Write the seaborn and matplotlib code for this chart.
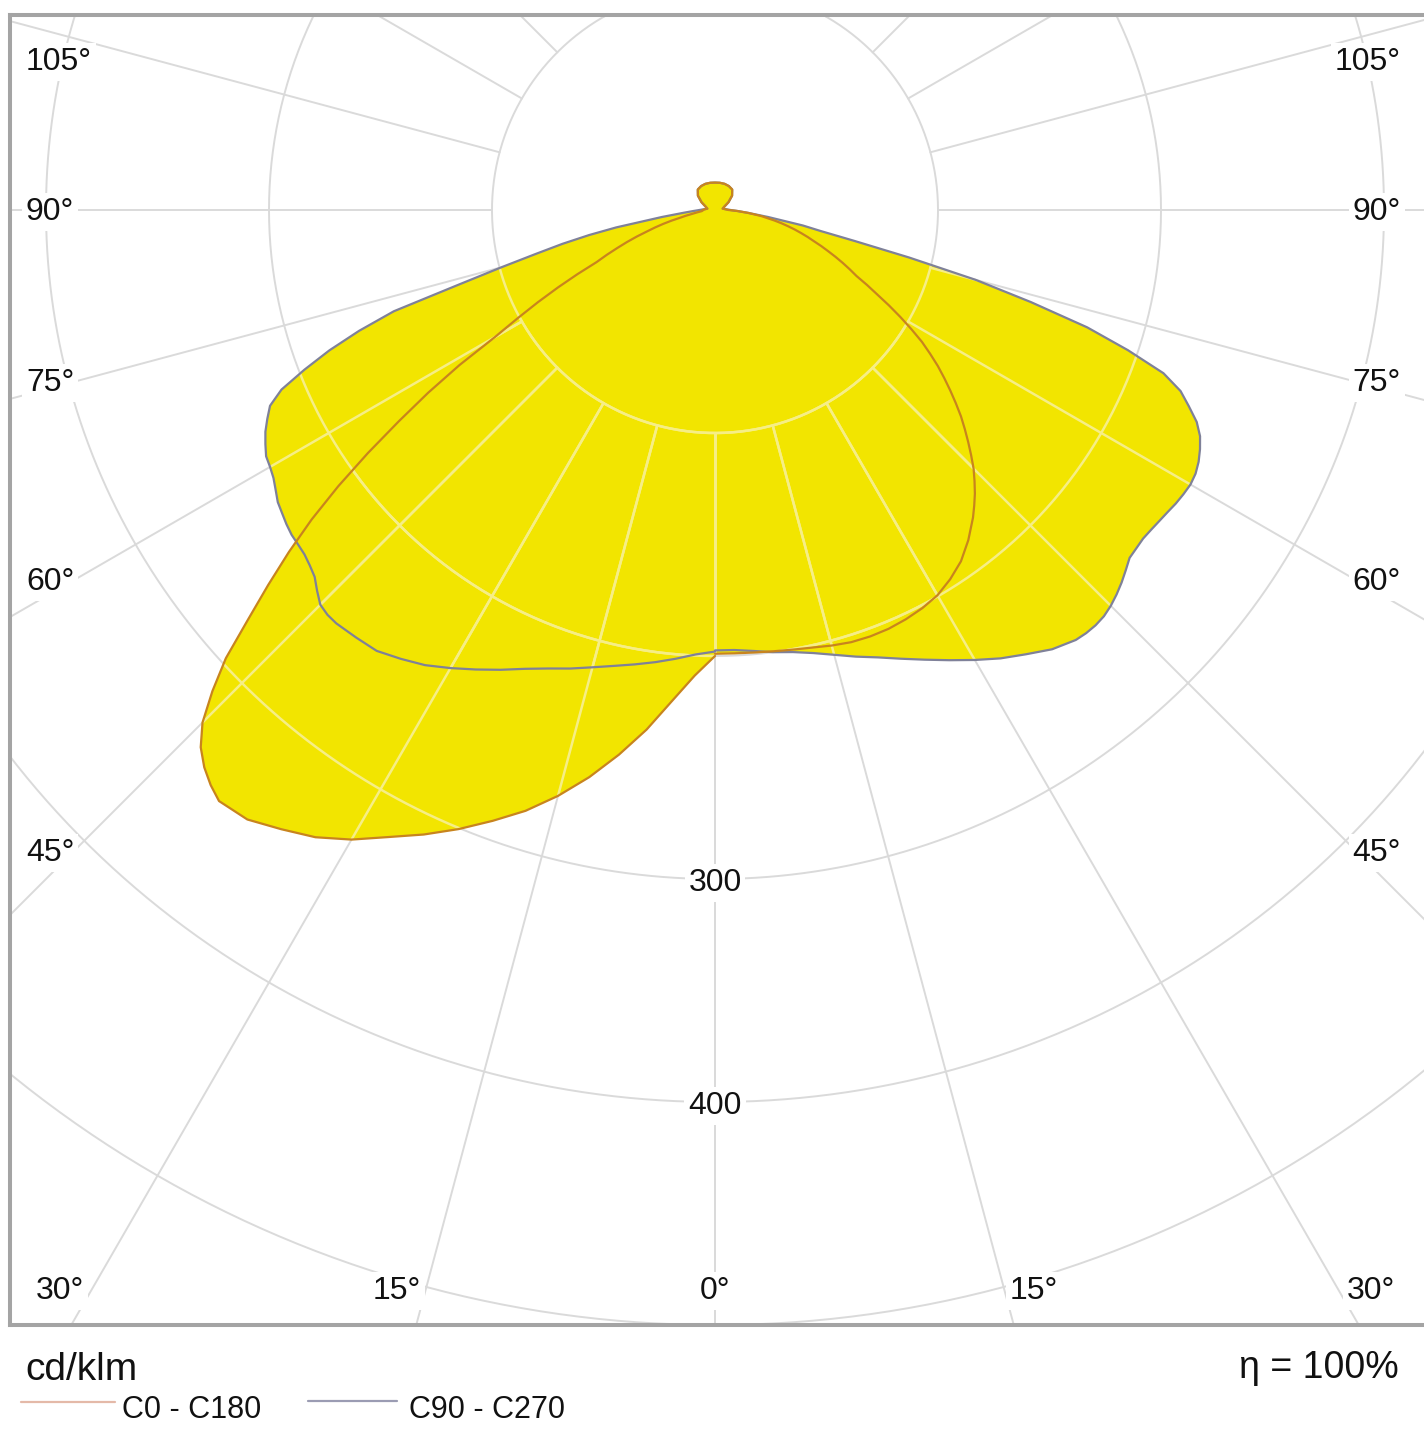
import numpy as np
import pandas as pd
import matplotlib
matplotlib.use("Agg")
import matplotlib.pyplot as plt
from matplotlib.lines import Line2D
import seaborn as sns

# ---------------- data (cd/klm) ----------------
GAMMA_LOWER = [0, 2.5, 5, 7.5, 10, 12.5, 15, 17.5, 20, 22.5, 25, 27.5, 30, 32.5, 35, 37.5,
               40, 41.25, 42.5, 43.75, 45, 46.25, 47.5, 48.75, 50, 51.25, 52.5, 53.75, 55,
               56.25, 57.5, 58.75, 60, 61.25, 62.5, 63.75, 65, 66.25, 67.5, 68.75, 70, 71.25,
               72.5, 73.75, 75, 76.25, 77.5, 78.75, 80, 82.5, 85, 87.5, 90]
GAMMA_UPPER = [100, 110, 120, 130, 140, 150, 160, 170, 180]

C0 = [199, 199, 199.2, 199.6, 200.2, 201, 202.2, 203.2, 203.5, 203.3, 202.5, 201.3, 199.5, 196.3,
      192.3, 186.6,
      180, 176.3, 172.5, 168.3, 164, 159, 154, 149, 144, 138.5, 133, 127.5, 122, 116, 110, 103,
      96, 89, 82, 76, 70, 66, 62, 58, 54, 50.3, 46.5, 43.3, 40, 36.8, 33.5, 30.3, 27,
      21, 15, 10, 6]
C180 = [200, 209, 221, 235, 248, 260.5, 272, 282.5, 291.5, 300.5, 309, 317, 326, 333.5, 339, 344.5,
        346, 343, 339, 333.5, 325, 312, 297.5, 278.5, 261.5, 245, 228, 209.5, 190, 170.5, 152.5,
        134, 114, 101, 89.5, 78.5, 68, 58, 52.5, 47, 42, 37, 32, 28, 24, 20, 16, 13.5, 11,
        8, 6, 5.5, 5.5]
C90 = [197.5, 197.5, 198.5, 200, 201.3, 203.5, 206.5, 210, 213.5, 217.8, 222.5, 227.6, 233,
       238.4, 243.2, 248.3,
       251.7, 252.4, 252.6, 252.2, 251, 249.3, 247.3, 245, 242.7, 242.3, 242, 242.5, 243.2, 244,
       245, 245.7, 246.2, 245.8, 244.5, 242.5, 240, 236, 230, 224, 214, 195.5, 175, 147.5, 121,
       89.5, 64, 48.3, 40,
       24, 15, 10, 7]
C270 = [198, 199.5, 202, 204.5, 206.9, 209.4, 212.3, 215.6, 218.8, 222.7, 227.5, 232.3, 237.2,
        242, 245.7, 249.2,
        250.3, 250.8, 251.4, 251.3, 250.3, 247, 243.5, 241.7, 240.3, 239.7, 239.3, 238.3, 237,
        235.8, 233.6, 231.6, 230.4, 229.6, 227.3, 224.8, 221.5, 218, 210.4, 197.5, 184, 168.5,
        151, 120, 99, 82.5, 70, 57.5, 45,
        24, 14, 9.5, 7]
UPPER = [3.5, 4.5, 7, 10, 12, 12.4, 12.5, 12.4, 12.3]

RING_VALUES = [100, 200, 300, 400, 500]
RING_LABELS = [300, 400]
SPOKE_ANGLES = [0, 15, 30, 45, 60, 75, 90, 105, 120, 135, 150, 165, 180]
LEFT_LABELS = ["105°", "90°", "75°", "60°", "45°"]
BOTTOM_LABELS = ["30°", "15°", "0°", "15°", "30°"]
PLANES = ["C0 - C180", "C90 - C270"]

# ---------------- style ----------------
YELLOW = "#f2e500"
PALE = "#f6ee86"
GRID = "#dadada"
RED = "#c8841e"
GRAY = "#7f8199"
INK = "#111111"

sns.set_theme(style="white")
plt.rcParams["font.family"] = ["Liberation Sans", "DejaVu Sans"]

W, H = 1424, 1436
fig = plt.figure(figsize=(W / 100, H / 100), dpi=100)
fig.patch.set_facecolor("white")

CX, CY, S = 715.0, 210.0, 2.23  # pixel centre, px per cd/klm
L, R, T, B = 10, 1440, 15, 1325
ax = fig.add_axes([L / W, (H - B) / H, (R - L) / W, (B - T) / H])
XLIM = ((L - CX) / S, (R - CX) / S)
YLIM = ((CY - B) / S, (CY - T) / S)
ax.set_xlim(*XLIM)
ax.set_ylim(*YLIM)
ax.set_xticks([])
ax.set_yticks([])
ax.set_facecolor("white")
for sp in ax.spines.values():
    sp.set_color("#a4a4a4")
    sp.set_linewidth(2.9)
    sp.set_visible(True)


def px(x, y):
    return (x - CX) / S, (CY - y) / S


def half(lower, side):
    g = np.radians(np.array(GAMMA_LOWER + GAMMA_UPPER, dtype=float))
    r = np.array(lower + UPPER, dtype=float)
    return side * r * np.sin(g), -r * np.cos(g)


def plane_xy(right, left):
    xr, yr = half(right, 1)
    xl, yl = half(left, -1)
    x = np.concatenate([xr, xl[::-1][1:]])
    y = np.concatenate([yr, yl[::-1][1:]])
    return x, y


curves = {
    PLANES[0]: plane_xy(C0, C180),
    PLANES[1]: plane_xy(C90, C270),
}

# ---------------- grid ----------------
t = np.linspace(0, 2 * np.pi, 721)


def draw_grid(color, lw, z, clip=None):
    arts = []
    for rv in RING_VALUES:
        ln, = ax.plot(rv * np.cos(t), rv * np.sin(t), color=color, lw=lw, zorder=z)
        arts.append(ln)
    for a in SPOKE_ANGLES:
        ar = np.radians(a)
        for side in (-1, 1):
            rr = np.array([100, 900])
            ln, = ax.plot(side * rr * np.sin(ar), -rr * np.cos(ar), color=color, lw=lw, zorder=z)
            arts.append(ln)
    if clip is not None:
        for a_ in arts:
            a_.set_clip_path(clip)


draw_grid(GRID, 1.4, 1)

# ---------------- fills ----------------
patches = []
for name in PLANES:
    x, y = curves[name]
    p = ax.fill(x, y, color=YELLOW, lw=0, zorder=2)[0]
    patches.append(p)

for p in patches:
    draw_grid(PALE, 1.8, 3, clip=p)

# ---------------- outlines (seaborn) ----------------
rows = []
for name in PLANES:
    x, y = curves[name]
    for i, (xx, yy) in enumerate(zip(x, y)):
        rows.append({"plane": name, "order": i, "x": xx, "y": yy})
df = pd.DataFrame(rows)
sns.lineplot(data=df[df.plane == PLANES[1]], x="x", y="y", sort=False, estimator=None,
             color=GRAY, linewidth=1.6, ax=ax, zorder=4, legend=False)
sns.lineplot(data=df[df.plane == PLANES[0]], x="x", y="y", sort=False, estimator=None,
             color=RED, linewidth=1.6, ax=ax, zorder=5, legend=False)
ax.set_xlabel("")
ax.set_ylabel("")
ax.set_xlim(*XLIM)
ax.set_ylim(*YLIM)

# ---------------- labels ----------------
bbox = dict(boxstyle="square,pad=0.12", fc="white", ec="none")
FS = 23
left_y = [62, 212, 383, 582, 853]
for lab, yy in zip(LEFT_LABELS, left_y):
    ax.text(*px(26, yy), lab, ha="left", va="center", fontsize=FS, color=INK, zorder=6, bbox=bbox)
    ax.text(*px(1401, yy), lab, ha="right", va="center", fontsize=FS, color=INK, zorder=6, bbox=bbox)
bottom_x = [60, 397, 715, 1034, 1371]
for lab, xx in zip(BOTTOM_LABELS, bottom_x):
    ax.text(*px(xx, 1291), lab, ha="center", va="center", fontsize=FS, color=INK, zorder=6, bbox=bbox)
for rv in RING_LABELS:
    ax.text(0, -rv - 4 / S, str(rv), ha="center", va="center", fontsize=FS, color=INK, zorder=6, bbox=bbox)

# ---------------- footer ----------------
def ff(x, y):
    return x / W, 1 - y / H


fig.text(*ff(25, 1380), "cd/klm", ha="left", va="baseline", fontsize=28, color=INK)
fig.text(*ff(1399, 1378), "η = 100%", ha="right", va="baseline", fontsize=27, color=INK)
fig.add_artist(Line2D([21 / W, 115 / W], [1 - 1402 / H] * 2, transform=fig.transFigure,
                      color="#e4b9a8", lw=1.6))
fig.add_artist(Line2D([308 / W, 397 / W], [1 - 1401 / H] * 2, transform=fig.transFigure,
                      color="#9b9cb3", lw=1.6))
fig.text(*ff(122, 1418), PLANES[0], ha="left", va="baseline", fontsize=22, color=INK)
fig.text(*ff(409, 1418), PLANES[1], ha="left", va="baseline", fontsize=22, color=INK)

fig.savefig("out.png", dpi=100, facecolor="white")
